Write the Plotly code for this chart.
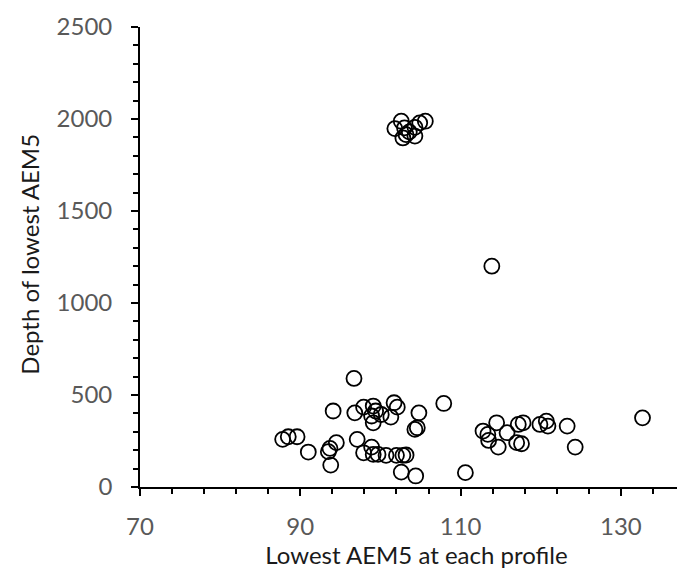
import plotly.graph_objects as go

x_top = [101.8, 102.6, 103.0, 103.2, 102.8, 104.3, 104.9, 105.6, 104.3, 103.6, 113.9]
y_top = [1948, 1988, 1952, 1915, 1897, 1907, 1979, 1988, 1955, 1930, 1200]

x_low = [96.7, 94.1, 96.8, 97.9, 99.1, 99.4, 98.9, 99.1, 100.1, 101.3, 101.7, 102.1,
         104.8, 107.9, 104.3, 104.6, 87.8, 88.5, 89.6, 91.0, 93.5, 94.5, 93.8, 93.7,
         97.1, 97.9, 98.9, 99.1, 99.7, 100.7, 102.0, 102.8, 103.2, 102.6, 104.4, 110.6,
         112.8, 113.4, 113.5, 114.5, 114.7, 115.8, 117.2, 117.8, 117.0, 117.6, 119.9,
         120.7, 120.9, 123.3, 124.3, 132.7]
y_low = [590, 413, 403, 434, 440, 413, 386, 349, 394, 380, 458, 434,
         403, 454, 313, 322, 259, 273, 273, 190, 192, 241, 119, 210,
         259, 186, 217, 177, 177, 172, 172, 172, 174, 81, 60, 78,
         304, 286, 253, 349, 217, 295, 340, 349, 241, 235, 340,
         358, 331, 331, 217, 376]

x_vals = x_top + x_low
y_vals = y_top + y_low

x_ticks = [70, 90, 110, 130]
y_ticks = [0, 500, 1000, 1500, 2000, 2500]
x_title = "Lowest AEM5 at each profile"
y_title = "Depth of lowest AEM5"

fig = go.Figure()
fig.add_trace(go.Scatter(
    x=x_vals, y=y_vals, mode="markers",
    marker=dict(symbol="circle-open", size=15, color="black", line=dict(width=1.8, color="black")),
    showlegend=False, cliponaxis=False,
))

font_family = "Lato, Open Sans, sans-serif"
fig.update_layout(
    width=685, height=573,
    margin=dict(l=132, r=0, t=19, b=94, autoexpand=False),
    paper_bgcolor="white", plot_bgcolor="white",
    font=dict(family=font_family, size=24, color="#595959"),
)
fig.update_xaxes(
    range=[70, 139], tickvals=x_ticks, ticktext=[str(v) for v in x_ticks],
    showgrid=False, zeroline=False, showline=True, linecolor="black", linewidth=1.8,
    ticks="outside", ticklen=7, tickwidth=1.5, tickcolor="black",
    minor=dict(dtick=4, tick0=70, ticks="outside", ticklen=5, tickwidth=1.5, tickcolor="black", showgrid=False),
    tickfont=dict(size=24, color="#595959"), ticklabelstandoff=10,
    title=dict(text=x_title, font=dict(size=24, color="#1a1a1a"), standoff=6),
    automargin=False,
)
fig.update_yaxes(
    range=[0, 2500], tickvals=y_ticks, ticktext=[str(v) for v in y_ticks],
    showgrid=False, zeroline=False, showline=True, linecolor="black", linewidth=1.8,
    ticks="outside", ticklen=7, tickwidth=1.5, tickcolor="black",
    minor=dict(dtick=100, tick0=0, ticks="outside", ticklen=5, tickwidth=1.5, tickcolor="black", showgrid=False),
    tickfont=dict(size=24, color="#595959"), ticklabelstandoff=14,
    automargin=False,
)
fig.add_annotation(
    text=y_title, xref="paper", yref="paper", x=0, y=0.505,
    xanchor="center", yanchor="middle", xshift=-110, textangle=-90, showarrow=False,
    font=dict(size=24, color="#1a1a1a", family=font_family),
)

fig.write_html("out.html")
